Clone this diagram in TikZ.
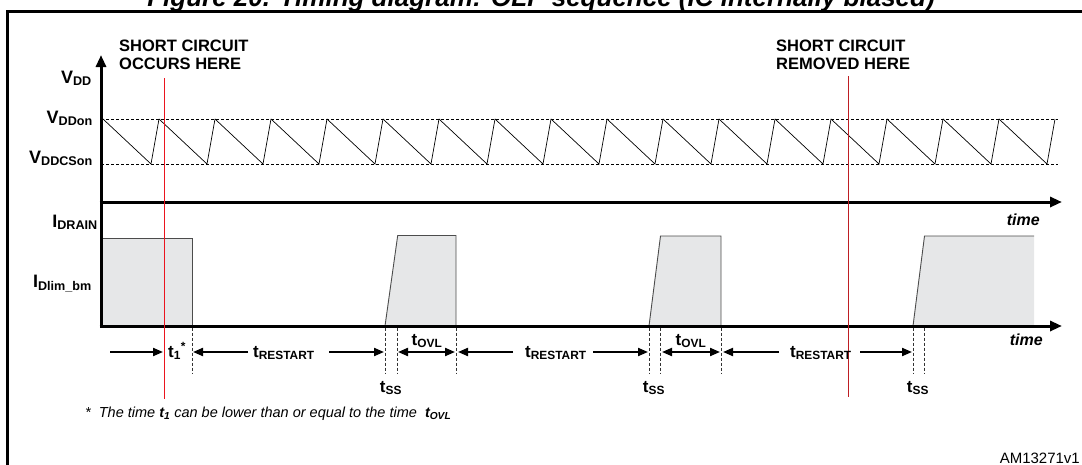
\documentclass[tikz,border=0pt]{standalone}
\usepackage{fontspec}
\setmainfont{Liberation Sans}
\usepackage{xcolor}
\usetikzlibrary{arrows.meta}
\definecolor{pulsegray}{RGB}{230,231,232}
\definecolor{scred}{RGB}{235,20,30}
\definecolor{scdark}{RGB}{190,30,35}

\begin{document}
\begin{tikzpicture}
[x=1pt,y=-1pt,
 lbl/.style={inner sep=0pt,font=\bfseries\fontsize{18}{20}\selectfont},
 note/.style={inner sep=0pt,font=\bfseries\fontsize{16.5}{17.5}\selectfont,align=left},
 dimtxt/.style={inner sep=0pt,font=\bfseries\fontsize{17}{19}\selectfont},
 timetxt/.style={inner sep=0pt,font=\bfseries\itshape\fontsize{16}{18}\selectfont},
 axis/.style={line width=3pt,-{Triangle[length=12pt,width=10pt]}},
 level/.style={densely dashed,line width=0.7pt},
 saw/.style={line width=0.7pt},
 pulse/.style={draw=black!70,line width=0.9pt},
 vmark/.style={densely dashed,line width=0.8pt,black!80},
 dimr/.style={line width=2pt,-{Triangle[length=10pt,width=8pt]}},
 dimlr/.style={line width=2pt,{Triangle[length=10pt,width=8pt]}-{Triangle[length=10pt,width=8pt]}}]
\useasboundingbox (0,0) rectangle (1082,464);
% frame and title
\draw[line width=3pt] (1095,11.5) -| (7.5,475);
\node[anchor=base,inner sep=0pt,font=\bfseries\itshape\fontsize{26}{28}\selectfont] (title) at (541,6)
  {Figure 20. Timing diagram: OLP sequence (IC internally biased)};
% V_DD levels and sawtooth
\coordinate (on-a)  at (101,119);
\coordinate (on-b)  at (1058,119);
\coordinate (cs-a)  at (101,164);
\coordinate (cs-b)  at (1058,164);
\path (on-a) edge[level] (on-b)
      (cs-a) edge[level] (cs-b);
\foreach \k in {0,...,16}
  \draw[saw] ({103+56*\k},119) -- ({151+56*\k},164) -- ({159+56*\k},119);
% drain current pulses
\fill[pulsegray] (101,326) rectangle (192,238);
\draw[pulse] (101,238) -- (192,238) -- (192,326);
\fill[pulsegray] (385,326) -- (397.7,235.5) -- (456,235.5) -- (456,326) -- cycle;
\draw[pulse] (385,326) -- (397.7,235.5) -- (456,235.5) -- (456,326);
\fill[pulsegray] (649,326) -- (660.5,236) -- (721,236) -- (721,326) -- cycle;
\draw[pulse] (649,326) -- (660.5,236) -- (721,236) -- (721,326);
\fill[pulsegray] (913,326) -- (924.5,236) -- (1034,236) -- (1034,326) -- cycle;
\draw[pulse] (913,326) -- (924.5,236) -- (1034,236);
% axes
\coordinate (org)   at (101,327.5);
\coordinate (vtop)  at (101,55);
\coordinate (t1-a)  at (99.5,202);
\coordinate (t1-b)  at (1062,202);
\coordinate (t2-a)  at (99.5,326);
\coordinate (t2-b)  at (1062,326);
\path (org)  edge[axis] (vtop)
      (t1-a) edge[axis] (t1-b)
      (t2-a) edge[axis] (t2-b);
% axis labels
\node[lbl,anchor=base east] (vdd)     at (92,83)  {V\textsubscript{DD}};
\node[lbl,anchor=base east] (vddon)   at (93,123) {V\textsubscript{DDon}};
\node[lbl,anchor=base east] (vddcson) at (93,163) {V\textsubscript{DDCSon}};
\node[lbl,anchor=base east] (idrain)  at (98,227) {I\textsubscript{DRAIN}};
\node[lbl,anchor=base east] (idlim)   at (92,287) {I\textsubscript{Dlim\_bm}};
\node[timetxt,anchor=base east] (time1) at (1040,225) {time};
\node[timetxt,anchor=base east] (time2) at (1043,345) {time};
% short circuit markers
\node[note,anchor=north west] (scon)  at (119,40) {SHORT CIRCUIT\\OCCURS HERE};
\node[note,anchor=north west] (scoff) at (776,40) {SHORT CIRCUIT\\REMOVED HERE};
\draw[scred,line width=1pt]  (164.5,78) -- (164.5,399);
\draw[scdark,line width=1pt] (848,76)   -- (848,397);
% timing marks
\foreach \x in {192,385,397.7,456,649,660.5,721,913,924.5}
  \draw[vmark] (\x,327.5) -- (\x,374);
\coordinate (a1s) at (110,352);   \coordinate (a1e) at (163,352);
\coordinate (a2s) at (248,352);   \coordinate (a2e) at (193,352);
\coordinate (a3s) at (329,352);   \coordinate (a3e) at (384,352);
\coordinate (o1s) at (398,352);   \coordinate (o1e) at (455,352);
\coordinate (a4s) at (513,352);   \coordinate (a4e) at (458,352);
\coordinate (a5s) at (593,352);   \coordinate (a5e) at (648,352);
\coordinate (o2s) at (662,352);   \coordinate (o2e) at (720,352);
\coordinate (a6s) at (779,352);   \coordinate (a6e) at (723,352);
\coordinate (a7s) at (860,352);   \coordinate (a7e) at (912,352);
\path (a1s) edge[dimr]  (a1e)
      (a2s) edge[dimr]  (a2e)
      (a3s) edge[dimr]  (a3e)
      (o1s) edge[dimlr] (o1e)
      (a4s) edge[dimr]  (a4e)
      (a5s) edge[dimr]  (a5e)
      (o2s) edge[dimlr] (o2e)
      (a6s) edge[dimr]  (a6e)
      (a7s) edge[dimr]  (a7e);
\node[dimtxt,anchor=base west] (t1)    at (168,357) {t\textsubscript{1}\textsuperscript{*}};
\node[dimtxt,anchor=base west] (trs-1) at (253,357) {t\textsubscript{RESTART}};
\node[dimtxt,anchor=base west] (trs-2) at (525,357) {t\textsubscript{RESTART}};
\node[dimtxt,anchor=base west] (trs-3) at (790,357) {t\textsubscript{RESTART}};
\node[dimtxt,anchor=base] (tovl-1) at (427,345) {t\textsubscript{OVL}};
\node[dimtxt,anchor=base] (tovl-2) at (691,345) {t\textsubscript{OVL}};
\node[dimtxt,anchor=base] (tss-1)  at (391,392) {t\textsubscript{SS}};
\node[dimtxt,anchor=base] (tss-2)  at (654,392) {t\textsubscript{SS}};
\node[dimtxt,anchor=base] (tss-3)  at (918,392) {t\textsubscript{SS}};
% footnote and code
\node[anchor=base west,inner sep=0pt,font=\itshape\fontsize{14.5}{16}\selectfont] (fnote) at (85,417)
  {*\ \ The time \textbf{t\textsubscript{1}} can be lower than or equal to the time \ \textbf{t\textsubscript{OVL}}};
\node[anchor=base east,inner sep=0pt,font=\fontsize{15}{17}\selectfont] (code) at (1080,463) {AM13271v1};
\end{tikzpicture}
\end{document}
